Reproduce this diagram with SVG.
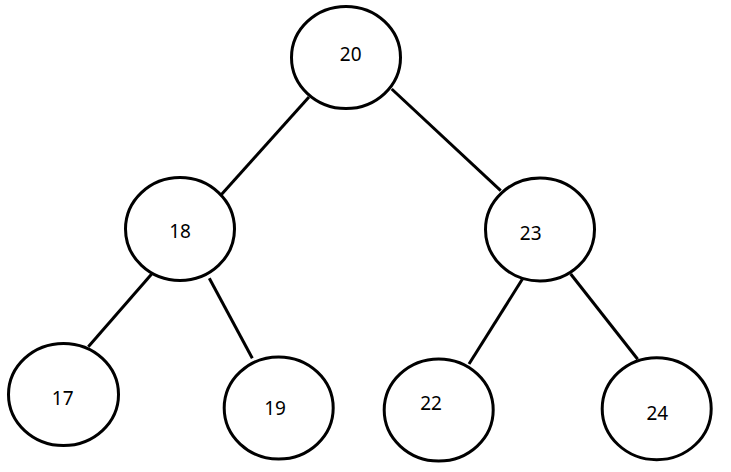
<svg xmlns="http://www.w3.org/2000/svg" width="731" height="472" viewBox="0 0 731 472">
<style>
.n ellipse{fill:#fff;stroke:#000;stroke-width:3}
.n text{font-family:"Noto Sans","Open Sans",sans-serif;font-size:19px;fill:#000;text-anchor:middle;dominant-baseline:central}
#edges line{stroke:#000;stroke-width:3}
</style>
<rect width="731" height="472" fill="#fff"/>
<g id="edges">
<line x1="309" y1="97" x2="221" y2="195"/>
<line x1="391.7" y1="89" x2="500.7" y2="190.7"/>
<line x1="151.7" y1="274" x2="88.3" y2="346.7"/>
<line x1="209.3" y1="278.3" x2="252.3" y2="358.3"/>
<line x1="522.3" y1="279.3" x2="469" y2="364"/>
<line x1="570.7" y1="274" x2="637.7" y2="359.3"/>
</g>
<g id="n20" class="n"><ellipse cx="346" cy="57.5" rx="54.5" ry="51"/><text x="350.7" y="54">20</text></g>
<g id="n18" class="n"><ellipse cx="180" cy="229" rx="54.5" ry="51.5"/><text x="180" y="230.5">18</text></g>
<g id="n23" class="n"><ellipse cx="540" cy="229.5" rx="54.5" ry="51.5"/><text x="530.7" y="232.5">23</text></g>
<g id="n17" class="n"><ellipse cx="63.5" cy="394.5" rx="55" ry="51"/><text x="62.7" y="398">17</text></g>
<g id="n19" class="n"><ellipse cx="278.7" cy="408" rx="54.5" ry="51"/><text x="275" y="408.3">19</text></g>
<g id="n22" class="n"><ellipse cx="438.7" cy="410" rx="54.5" ry="51"/><text x="431" y="403.3">22</text></g>
<g id="n24" class="n"><ellipse cx="656.7" cy="408.7" rx="54.5" ry="51"/><text x="657.3" y="413.3">24</text></g>
</svg>
